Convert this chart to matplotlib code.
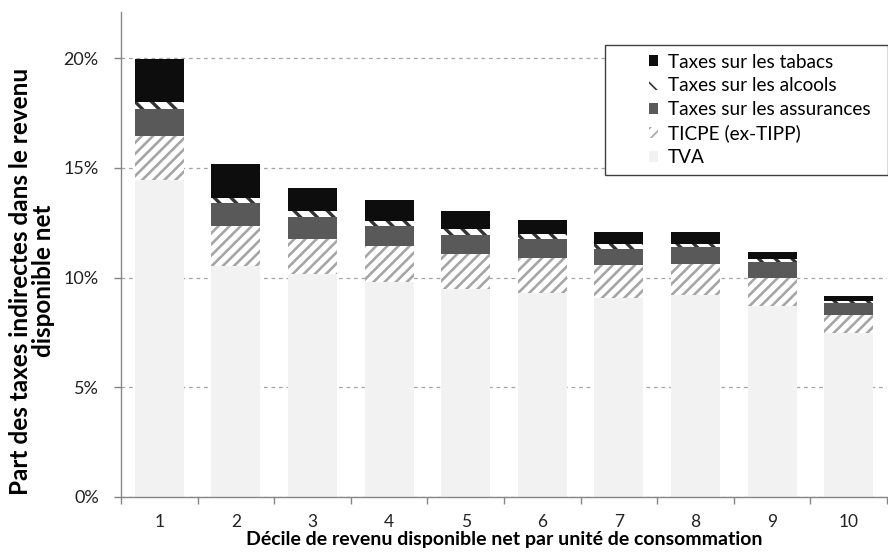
import matplotlib
matplotlib.use("Agg")
import matplotlib.pyplot as plt
from matplotlib.patches import Patch, Rectangle
import numpy as np

plt.rcParams['font.family'] = ['Lato', 'DejaVu Sans']

deciles = ["1", "2", "3", "4", "5", "6", "7", "8", "9", "10"]
tva = [14.43, 10.53, 10.14, 9.79, 9.47, 9.28, 9.09, 9.20, 8.72, 7.46]
ticpe = [2.03, 1.83, 1.64, 1.67, 1.59, 1.61, 1.46, 1.42, 1.28, 0.82]
assurances = [1.24, 1.02, 0.96, 0.91, 0.90, 0.86, 0.77, 0.77, 0.69, 0.55]
alcools = [0.32, 0.26, 0.30, 0.22, 0.25, 0.23, 0.23, 0.16, 0.15, 0.11]
tabacs = [1.95, 1.55, 1.05, 0.94, 0.83, 0.64, 0.52, 0.54, 0.32, 0.22]
yticks = [0, 5, 10, 15, 20]

fig = plt.figure(figsize=(8.88, 5.53), dpi=100)
ax = fig.add_axes([0.1363, 0.1015, 0.8626, 0.8765])

x = np.arange(1, len(deciles) + 1)
w = 0.64

series = [
    ("TVA", tva, dict(color="#f2f2f2", edgecolor="#f2f2f2", linewidth=0), 1.0),
    ("TICPE (ex-TIPP)", ticpe, dict(color="white", edgecolor="#a6a6a6", hatch="///", linewidth=0), 1.9),
    ("Taxes sur les assurances", assurances, dict(color="#595959", edgecolor="#595959", linewidth=0), 1.0),
    ("Taxes sur les alcools", alcools, dict(color="white", edgecolor="#333333", hatch="\\\\", linewidth=0), 2.4),
    ("Taxes sur les tabacs", tabacs, dict(color="#0d0d0d", edgecolor="#0d0d0d", linewidth=0), 1.0),
]

bottom = np.zeros(len(deciles))
handles = []
for name, vals, style, hlw in series:
    vals = np.array(vals)
    plt.rcParams['hatch.linewidth'] = hlw
    ax.bar(x, vals, w, bottom=bottom, zorder=2, **style)
    bottom += vals
    handles.append((name, style))

ax.set_xlim(0.5, 10.5)
ax.set_ylim(0, 22.1)

ax.set_yticks(yticks)
ax.set_yticklabels([f"{v}%" for v in yticks], fontsize=13, color="#222222")
ax.yaxis.grid(True, linestyle=(0, (3, 3)), color="#a6a6a6", linewidth=0.9, zorder=0)
ax.set_axisbelow(True)
ax.tick_params(axis="y", length=5, width=1, color="#868686", pad=11)

ax.set_xticks(x)
ax.set_xticklabels(deciles, fontsize=12.5, color="#222222")
ax.set_xticks(np.arange(0.5, 11.0, 1.0), minor=True)
ax.tick_params(axis="x", which="major", length=0, pad=12)
ax.tick_params(axis="x", which="minor", length=5, width=1, color="#868686")

for side in ("top", "right"):
    ax.spines[side].set_visible(False)
for side in ("left", "bottom"):
    ax.spines[side].set_color("#868686")
    ax.spines[side].set_linewidth(1)

ax.set_xlabel("Décile de revenu disponible net par unité de consommation",
              fontsize=14, fontweight="bold")
ax.xaxis.set_label_coords(0.5, -0.07)
ax.set_ylabel("Part des taxes indirectes dans le revenu\ndisponible net",
              fontsize=17.5, fontweight="bold", linespacing=1.0)
ax.yaxis.set_label_coords(-0.086, 0.445)

# legend, tabacs on top
leg_handles = []
leg_labels = []
for name, style in reversed(handles):
    leg_handles.append(Patch(facecolor=style["color"], edgecolor=style["edgecolor"],
                             hatch=style.get("hatch"), linewidth=0))
    leg_labels.append(name)
plt.rcParams['hatch.linewidth'] = 1.2
leg = fig.legend(leg_handles, leg_labels, loc="upper left",
                 bbox_to_anchor=(641 / 888, 1 - 46 / 553), frameon=False,
                 fontsize=13.7, handlelength=0.5, handleheight=0.5,
                 handletextpad=0.5, labelspacing=0.35, borderaxespad=0)
fig.add_artist(Rectangle((605 / 888, 1 - 175 / 553), 283 / 888, 130 / 553,
                         transform=fig.transFigure, fill=True, facecolor="white",
                         edgecolor="#404040", linewidth=1, zorder=3))
leg.set_zorder(4)

fig.savefig("out.png", dpi=100)
